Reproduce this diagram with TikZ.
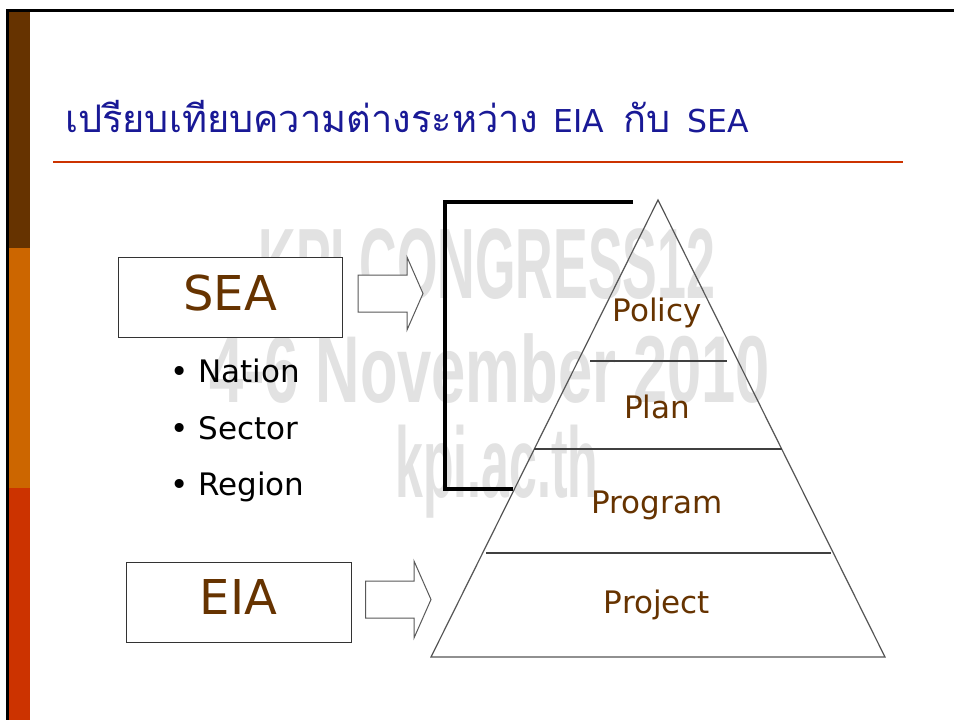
\documentclass[tikz,border=0pt]{standalone}
\usepackage{fontspec}
\setmainfont{DejaVu Sans}
\newfontfamily\thaifont[Script=Thai]{Loma}
\newfontfamily\wmfont{Liberation Sans}
\definecolor{titleblue}{RGB}{25,25,150}
\definecolor{rulecol}{RGB}{204,51,0}
\definecolor{barbrown}{RGB}{102,51,0}
\definecolor{barorange}{RGB}{204,102,0}
\definecolor{barred}{RGB}{204,51,0}
\definecolor{txtbrown}{RGB}{102,51,0}
\definecolor{wmgray}{RGB}{226,226,226}
\definecolor{linegray}{RGB}{85,85,85}
\tikzset{
  box/.style={draw=black!80, line width=1pt, fill=white, minimum width=224pt,
    minimum height=80pt, inner sep=0pt, text=txtbrown, font=\fontsize{48}{56}\selectfont},
  bul/.style={anchor=base west, inner sep=0pt, text=black, font=\fontsize{31}{37}\selectfont},
  lab/.style={anchor=base, inner sep=0pt, text=txtbrown, font=\fontsize{31}{37}\selectfont},
  wmtext/.style={inner sep=0pt, text=wmgray, font=\wmfont\bfseries},
  pyr/.style={draw=linegray, line width=1.2pt, line join=miter},
  divline/.style={draw=black!75, line width=1.2pt},
  blockarrow/.style={draw=black!65, line width=1pt, fill=white, line join=miter},
  bracketline/.style={draw=black, line width=4pt, line join=miter}
}
\begin{document}
\begin{tikzpicture}[x=1pt,y=-1pt]
\useasboundingbox (0,0) rectangle (954,720);
\fill[white] (0,0) rectangle (954,720);
% side bar
\fill[barbrown] (9,11) rectangle (30,248);
\fill[barorange] (9,248) rectangle (30,488);
\fill[barred] (9,488) rectangle (30,720);
\draw[black, line width=3pt] (7.5,720) -- (7.5,10.5) -- (954,10.5);
% title
\node[anchor=base west, inner sep=0pt, text=titleblue] (title) at (65,132)
  {{\thaifont\fontsize{38}{44}\selectfont เปรียบเทียบความต่างระหว่าง}\hspace{15pt}{\fontsize{31.5}{36}\selectfont EIA}\hspace{19pt}{\thaifont\fontsize{38}{44}\selectfont กับ}\hspace{17pt}{\fontsize{31.5}{36}\selectfont SEA}};
\draw[rulecol, line width=2pt] (53,161.5) -- (903,161.5);
% watermark
\node[wmtext] (wm1) at (487,264) {\fontsize{100}{100}\selectfont\scalebox{0.52}[1]{KPI CONGRESS12}};
\node[wmtext] (wm2) at (490,369) {\fontsize{95}{95}\selectfont\scalebox{0.647}[1]{4-6 November 2010}};
\node[wmtext, anchor=base] (wm3) at (497,497) {\fontsize{100}{100}\selectfont\scalebox{0.5}[1]{kpi.ac.th}};
% boxes
\node[box, text depth=9pt] (sea) at (230,297) {SEA};
\node[box, text depth=10pt, minimum width=225pt] (eia) at (238.5,602) {EIA};
% bullets
\node[bul] (nation) at (170,382) {• Nation};
\node[bul] (sector) at (170,439) {• Sector};
\node[bul] (region) at (170,495) {• Region};
% block arrows
\draw[blockarrow] (358,275) -- (407,275) -- (407,257) -- (423,293.5) -- (407,330) -- (407,312) -- (358,312) -- cycle;
\draw[blockarrow] (365.5,581) -- (414,581) -- (414,561) -- (431,599.5) -- (414,638) -- (414,618) -- (365.5,618) -- cycle;
% bracket
\coordinate (bk1) at (633,202);
\coordinate (bk2) at (445,202);
\coordinate (bk3) at (445,489);
\coordinate (bk4) at (513,489);
\draw[bracketline] (bk1) -- (bk2) -- (bk3) -- (bk4);
% pyramid
\coordinate (apex) at (658,200);
\coordinate (bl) at (431,657);
\coordinate (br) at (885,657);
\draw[pyr] (apex) -- (br) -- (bl) -- cycle;
\draw[divline] (590,361) -- (727,361);
\draw[divline] (534,449) -- (782,449);
\draw[divline] (486,553) -- (831,553);
\node[lab] (policy) at (657,321) {Policy};
\node[lab] (plan) at (657,418) {Plan};
\node[lab] (program) at (657,513) {Program};
\node[lab] (project) at (657,613) {Project};
\end{tikzpicture}
\end{document}
